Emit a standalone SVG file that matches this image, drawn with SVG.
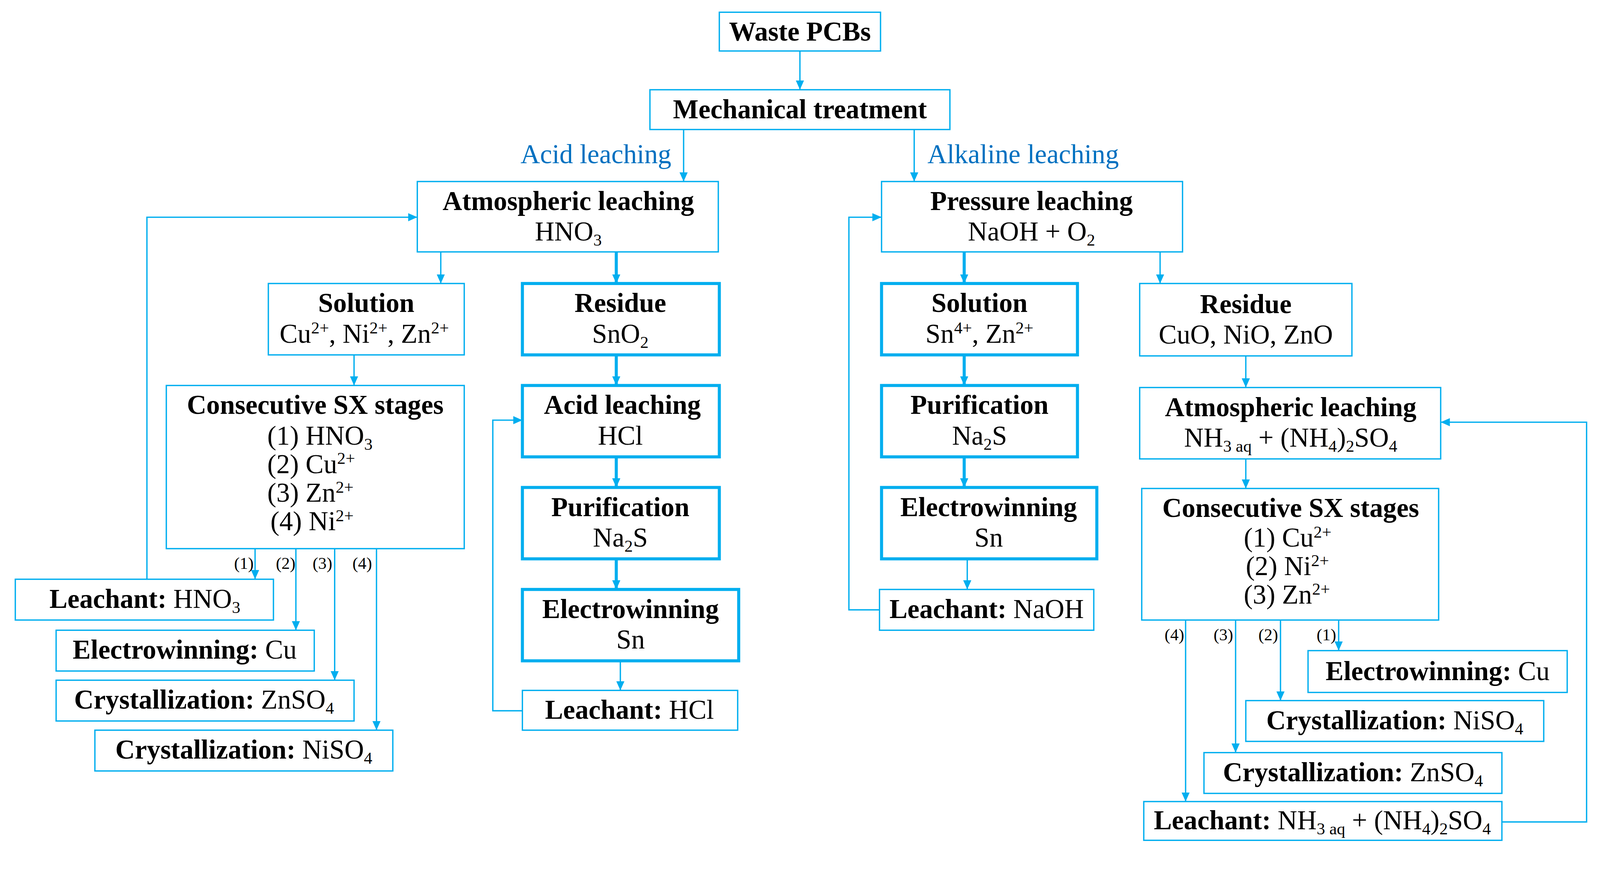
<svg xmlns="http://www.w3.org/2000/svg" width="4266" height="2277" viewBox="0 0 4266 2277">
<style>
.b{fill:#fff;stroke:#00AEEF;stroke-width:1.3}
.k{fill:#fff;stroke:#00AEEF;stroke-width:3}
text{font-family:"Liberation Serif","DejaVu Serif",serif;font-size:26.5px;fill:#000;text-anchor:middle}
.t{font-weight:bold}
.l{fill:#0070C0}
.s{font-size:16.5px}
.c line,.c path{stroke:#00AEEF;fill:none;stroke-width:1.3}
.c .w{stroke-width:3}
</style>
<defs>
<marker id="a" markerUnits="userSpaceOnUse" markerWidth="10" markerHeight="10" refX="9" refY="5" orient="auto"><path d="M0,1 L9,5 L0,9Z" fill="#00AEEF"/></marker>
</defs>
<rect width="4266" height="2277" fill="#fff"/>
<g transform="scale(2.612)">
<g class="c">
<line x1="784" y1="50" x2="784" y2="88" marker-end="url(#a)"/>
<line x1="670" y1="127" x2="670" y2="178" marker-end="url(#a)"/>
<line x1="896" y1="127" x2="896" y2="178" marker-end="url(#a)"/>
<line x1="432" y1="247" x2="432" y2="278" marker-end="url(#a)"/>
<line class="w" x1="604" y1="247" x2="604" y2="278" marker-end="url(#a)"/>
<line x1="347" y1="348" x2="347" y2="378" marker-end="url(#a)"/>
<line class="w" x1="604" y1="348" x2="604" y2="378" marker-end="url(#a)"/>
<line class="w" x1="604" y1="448" x2="604" y2="478" marker-end="url(#a)"/>
<line class="w" x1="604" y1="548" x2="604" y2="578" marker-end="url(#a)"/>
<line x1="608" y1="648" x2="608" y2="677" marker-end="url(#a)"/>
<path d="M512,697 H483 V412 H512" marker-end="url(#a)"/>
<line x1="250" y1="538" x2="250" y2="568" marker-end="url(#a)"/>
<line x1="290" y1="538" x2="290" y2="618" marker-end="url(#a)"/>
<line x1="328" y1="538" x2="328" y2="667" marker-end="url(#a)"/>
<line x1="369" y1="538" x2="369" y2="716" marker-end="url(#a)"/>
<path d="M144,568 V213 H409" marker-end="url(#a)"/>
<line class="w" x1="945" y1="247" x2="945" y2="278" marker-end="url(#a)"/>
<line x1="1137" y1="247" x2="1137" y2="278" marker-end="url(#a)"/>
<line class="w" x1="945" y1="348" x2="945" y2="378" marker-end="url(#a)"/>
<line class="w" x1="945" y1="448" x2="945" y2="478" marker-end="url(#a)"/>
<line x1="948" y1="548" x2="948" y2="578" marker-end="url(#a)"/>
<path d="M862,598 H832 V213 H864" marker-end="url(#a)"/>
<line x1="1221" y1="349" x2="1221" y2="380" marker-end="url(#a)"/>
<line x1="1221" y1="450" x2="1221" y2="479" marker-end="url(#a)"/>
<line x1="1312" y1="608" x2="1312" y2="638" marker-end="url(#a)"/>
<line x1="1255" y1="608" x2="1255" y2="687" marker-end="url(#a)"/>
<line x1="1211" y1="608" x2="1211" y2="738" marker-end="url(#a)"/>
<line x1="1162" y1="608" x2="1162" y2="786" marker-end="url(#a)"/>
<path d="M1472,806 H1555 V414 H1412" marker-end="url(#a)"/>
<text class="s" x="239" y="558">(1)</text><text class="s" x="280" y="558">(2)</text><text class="s" x="316" y="558">(3)</text><text class="s" x="355" y="558">(4)</text>
<text class="s" x="1151" y="628">(4)</text><text class="s" x="1199" y="628">(3)</text><text class="s" x="1243" y="628">(2)</text><text class="s" x="1300" y="628">(1)</text>
<text class="l" x="658" y="160" style="text-anchor:end">Acid leaching</text>
<text class="l" x="909" y="160" style="text-anchor:start">Alkaline leaching</text>
</g>
<g id="waste"><rect class="b" x="705" y="12" width="158" height="38"/><text class="t" x="784" y="40">Waste PCBs</text></g>
<g id="mech"><rect class="b" x="637" y="88" width="294" height="39"/><text class="t" x="784" y="116">Mechanical treatment</text></g>
<g id="atm1"><rect class="b" x="409" y="178" width="295" height="69"/><text class="t" x="557" y="206">Atmospheric leaching</text><text x="557" y="236">HNO<tspan class="s" dy="5">3</tspan></text></g>
<g id="press"><rect class="b" x="864" y="178" width="295" height="69"/><text class="t" x="1011" y="206">Pressure leaching</text><text x="1011" y="236">NaOH + O<tspan class="s" dy="5">2</tspan></text></g>
<g id="sol1"><rect class="b" x="263" y="278" width="192" height="70"/><text class="t" x="359" y="306">Solution</text><text x="357" y="336">Cu<tspan class="s" dy="-9">2+</tspan><tspan dy="9">, Ni</tspan><tspan class="s" dy="-9">2+</tspan><tspan dy="9">, Zn</tspan><tspan class="s" dy="-9">2+</tspan></text></g>
<g id="res1"><rect class="k" x="512" y="278" width="193" height="70"/><text class="t" x="608" y="306">Residue</text><text x="608" y="336">SnO<tspan class="s" dy="5">2</tspan></text></g>
<g id="sx1"><rect class="b" x="163" y="378" width="292" height="160"/><text class="t" x="309" y="406">Consecutive SX stages</text>
<text x="262" y="436" style="text-anchor:start">(1) HNO<tspan class="s" dy="5">3</tspan></text>
<text x="262" y="464" style="text-anchor:start">(2)  Cu<tspan class="s" dy="-9">2+</tspan></text>
<text x="262" y="492" style="text-anchor:start">(3)  Zn<tspan class="s" dy="-9">2+</tspan></text>
<text x="265" y="520" style="text-anchor:start">(4)  Ni<tspan class="s" dy="-9">2+</tspan></text></g>
<g id="acidhcl"><rect class="k" x="512" y="378" width="193" height="70"/><text class="t" x="610" y="406">Acid leaching</text><text x="608" y="436">HCl</text></g>
<g id="pur1"><rect class="k" x="512" y="478" width="193" height="70"/><text class="t" x="608" y="506">Purification</text><text x="608" y="536">Na<tspan class="s" dy="5">2</tspan><tspan dy="-5">S</tspan></text></g>
<g id="ew1"><rect class="k" x="512" y="578" width="212" height="70"/><text class="t" x="618" y="606">Electrowinning</text><text x="618" y="636">Sn</text></g>
<g id="lhcl"><rect class="b" x="512" y="677" width="211" height="39"/><text x="617" y="705"><tspan class="t">Leachant:</tspan> HCl</text></g>
<g id="lhno3"><rect class="b" x="15" y="568" width="253" height="40"/><text x="142" y="596"><tspan class="t">Leachant:</tspan> HNO<tspan class="s" dy="5">3</tspan></text></g>
<g id="ewcu1"><rect class="b" x="55" y="618" width="253" height="40"/><text x="181" y="646"><tspan class="t">Electrowinning:</tspan> Cu</text></g>
<g id="znso1"><rect class="b" x="55" y="667" width="292" height="40"/><text x="200" y="695"><tspan class="t">Crystallization:</tspan> ZnSO<tspan class="s" dy="5">4</tspan></text></g>
<g id="niso1"><rect class="b" x="93" y="716" width="292" height="40"/><text x="239" y="744"><tspan class="t">Crystallization:</tspan> NiSO<tspan class="s" dy="5">4</tspan></text></g>
<g id="sol2"><rect class="k" x="864" y="278" width="192" height="70"/><text class="t" x="960" y="306">Solution</text><text x="960" y="336">Sn<tspan class="s" dy="-9">4+</tspan><tspan dy="9">, Zn</tspan><tspan class="s" dy="-9">2+</tspan></text></g>
<g id="res2"><rect class="b" x="1117" y="278" width="208" height="71"/><text class="t" x="1221" y="307">Residue</text><text x="1221" y="337">CuO, NiO, ZnO</text></g>
<g id="pur2"><rect class="k" x="864" y="378" width="192" height="70"/><text class="t" x="960" y="406">Purification</text><text x="960" y="436">Na<tspan class="s" dy="5">2</tspan><tspan dy="-5">S</tspan></text></g>
<g id="ew2"><rect class="k" x="864" y="478" width="211" height="70"/><text class="t" x="969" y="506">Electrowinning</text><text x="969" y="536">Sn</text></g>
<g id="lnaoh"><rect class="b" x="862" y="578" width="210" height="40"/><text x="967" y="606"><tspan class="t">Leachant:</tspan> NaOH</text></g>
<g id="atm2"><rect class="b" x="1117" y="380" width="295" height="70"/><text class="t" x="1265" y="408">Atmospheric leaching</text><text x="1265" y="438">NH<tspan class="s" dy="5">3 aq</tspan><tspan dy="-5"> + (NH</tspan><tspan class="s" dy="5">4</tspan><tspan dy="-5">)</tspan><tspan class="s" dy="5">2</tspan><tspan dy="-5">SO</tspan><tspan class="s" dy="5">4</tspan></text></g>
<g id="sx2"><rect class="b" x="1119" y="479" width="291" height="129"/><text class="t" x="1265" y="507">Consecutive SX stages</text>
<text x="1219" y="536" style="text-anchor:start">(1)  Cu<tspan class="s" dy="-9">2+</tspan></text>
<text x="1221" y="564" style="text-anchor:start">(2)  Ni<tspan class="s" dy="-9">2+</tspan></text>
<text x="1219" y="592" style="text-anchor:start">(3)  Zn<tspan class="s" dy="-9">2+</tspan></text></g>
<g id="ewcu2"><rect class="b" x="1282" y="638" width="254" height="41"/><text x="1409" y="667"><tspan class="t">Electrowinning:</tspan> Cu</text></g>
<g id="niso2"><rect class="b" x="1221" y="687" width="292" height="40"/><text x="1367" y="715"><tspan class="t">Crystallization:</tspan> NiSO<tspan class="s" dy="5">4</tspan></text></g>
<g id="znso2"><rect class="b" x="1180" y="738" width="292" height="40"/><text x="1326" y="766"><tspan class="t">Crystallization:</tspan> ZnSO<tspan class="s" dy="5">4</tspan></text></g>
<g id="lnh3"><rect class="b" x="1121" y="786" width="351" height="38"/><text x="1296" y="813"><tspan class="t">Leachant:</tspan> NH<tspan class="s" dy="5">3 aq</tspan><tspan dy="-5"> + (NH</tspan><tspan class="s" dy="5">4</tspan><tspan dy="-5">)</tspan><tspan class="s" dy="5">2</tspan><tspan dy="-5">SO</tspan><tspan class="s" dy="5">4</tspan></text></g>
</g>
</svg>
